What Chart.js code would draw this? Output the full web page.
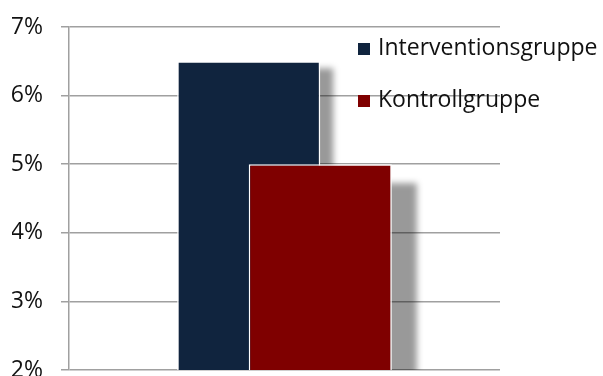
<!DOCTYPE html>
<html>
<head>
<meta charset="utf-8">
<script src="https://cdn.jsdelivr.net/npm/chart.js@4.4.0/dist/chart.umd.min.js"></script>
<style>
  html, body { margin: 0; padding: 0; background: #fff; overflow: hidden; }
  #wrap { position: relative; width: 603px; height: 397px; }
</style>
</head>
<body>
<div id="wrap"><canvas id="chart"></canvas></div>
<script>
// Values (percent)
const categories = ['Anteil'];
const seriesNames = ['Interventionsgruppe', 'Kontrollgruppe'];
const interventionValues = [6.5];
const kontrollValues = [5.0];
const yTickValues = [2, 3, 4, 5, 6, 7];

const seriesColors = ['#10243e', '#7f0000'];

// Draws the soft drop shadow behind each bar, then the bars themselves,
// in dataset order so the later group sits in front.
const shadowedBars = {
  id: 'shadowedBars',
  beforeDatasetsDraw(chart, args, opts) {
    const ctx = chart.ctx;
    const area = chart.chartArea;
    const metas = chart.getSortedVisibleDatasetMetas();
    ctx.save();
    ctx.beginPath();
    ctx.rect(area.left, area.top, area.right - area.left, area.bottom - area.top);
    ctx.clip();
    metas.forEach((meta) => {
      const off = opts.offsets[meta.index] || { dx: 0, dy: 0 };
      meta.data.forEach((bar) => {
        const p = bar.getProps(['x', 'y', 'base', 'width'], true);
        ctx.save();
        ctx.filter = 'blur(' + opts.blur + 'px)';
        ctx.fillStyle = opts.color;
        ctx.fillRect(p.x - p.width / 2 + off.dx, p.y + off.dy, p.width, p.base - p.y + 30);
        ctx.restore();
      });
      meta.controller.draw();
    });
    ctx.restore();
    return false;
  }
};

// Legend drawn over the upper right of the plot area.
const overlayLegend = {
  id: 'overlayLegend',
  afterDraw(chart, args, opts) {
    const ctx = chart.ctx;
    ctx.save();
    ctx.font = opts.fontSize + 'px ' + opts.fontFamily;
    ctx.textBaseline = 'alphabetic';
    ctx.textAlign = 'left';
    chart.data.datasets.forEach((ds, i) => {
      const baseline = opts.top + i * opts.rowGap;
      ctx.fillStyle = ds.backgroundColor;
      ctx.fillRect(opts.left, baseline - opts.box, opts.box, opts.box);
      ctx.fillStyle = opts.color;
      ctx.fillText(ds.label, opts.left + opts.box + opts.gap, baseline);
    });
    ctx.restore();
  }
};

const FONT = "'Open Sans', 'Liberation Sans', sans-serif";

new Chart(document.getElementById('chart'), {
  type: 'bar',
  data: {
    labels: categories,
    datasets: [
      {
        label: seriesNames[0],
        data: interventionValues,
        backgroundColor: seriesColors[0]
      },
      {
        label: seriesNames[1],
        data: kontrollValues,
        backgroundColor: seriesColors[1]
      }
    ]
  },
  options: {
    responsive: true,
    maintainAspectRatio: false,
    animation: false,
    layout: { padding: { top: 0, left: 12, right: 103, bottom: 0 } },
    datasets: {
      bar: {
        categoryPercentage: 0.332,
        barPercentage: 2.0,
        borderColor: '#ffffff',
        borderWidth: 1.5,
        borderSkipped: false
      }
    },
    scales: {
      x: { display: false },
      y: {
        min: yTickValues[0],
        max: yTickValues[yTickValues.length - 1],
        afterBuildTicks(axis) {
          axis.ticks = yTickValues.map((v) => ({ value: v }));
        },
        afterFit(axis) {
          axis.width = 57;
          axis.paddingTop = 27;
          axis.paddingBottom = 27;
        },
        ticks: {
          padding: 18,
          color: '#111',
          font: { family: FONT, size: 23 },
          callback: (v) => v + '%'
        },
        grid: {
          color: '#a0a0a0',
          lineWidth: 1.5,
          tickLength: 8,
          drawTicks: true
        },
        border: { display: true, color: '#a0a0a0', width: 1.5 }
      }
    },
    plugins: {
      legend: { display: false },
      tooltip: { enabled: false },
      shadowedBars: {
        color: 'rgba(0,0,0,0.4)',
        blur: 3,
        offsets: [ { dx: 13, dy: 7 }, { dx: 25, dy: 19 } ]
      },
      overlayLegend: {
        left: 358,
        top: 55,
        rowGap: 52,
        box: 12,
        gap: 8,
        fontSize: 23,
        fontFamily: FONT,
        color: '#111'
      }
    }
  },
  plugins: [shadowedBars, overlayLegend]
});
</script>
</body>
</html>
